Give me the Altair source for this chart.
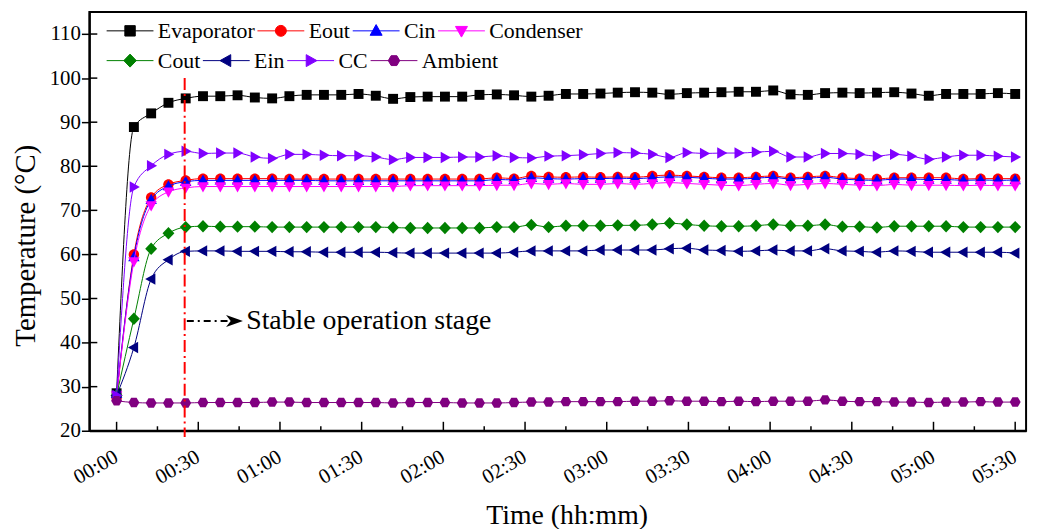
import altair as alt
import pandas as pd

# ---------------- data ----------------
SERIES = ["Evaporator", "Eout", "Cin", "Condenser", "Cout", "Ein", "CC", "Ambient"]
COLORS = ["#000000", "#FF0000", "#0000FF", "#FF00FF", "#008000", "#000080", "#8000FF", "#800080"]

SAMPLE_STEP_MIN = 330 / 52
TIME_MIN = [round(i * SAMPLE_STEP_MIN, 2) for i in range(53)]

EVAPORATOR = [28.5, 88.9, 92.0, 94.4, 95.4, 95.9, 95.9, 96.1, 95.6, 95.4, 95.9, 96.2, 96.2, 96.2,
              96.4, 96.0, 95.3, 95.7, 95.8, 95.8, 95.8, 96.2, 96.3, 96.1, 95.8, 96.0, 96.4, 96.4,
              96.5, 96.7, 96.8, 96.7, 96.3, 96.6, 96.7, 96.8, 96.9, 96.9, 97.2, 96.3, 96.2, 96.6,
              96.7, 96.6, 96.7, 96.8, 96.5, 96.0, 96.4, 96.4, 96.4, 96.6, 96.4]
EOUT = [27.5, 60.0, 72.9, 75.9, 76.8, 77.2, 77.2, 77.2, 77.2, 77.2, 77.1, 77.1, 77.1, 77.1,
        77.1, 77.1, 77.1, 77.1, 77.1, 77.1, 77.1, 77.1, 77.4, 77.2, 77.8, 77.6, 77.5, 77.6,
        77.5, 77.6, 77.5, 77.8, 78.0, 77.8, 77.6, 77.4, 77.4, 77.6, 77.8, 77.4, 77.6, 77.8,
        77.4, 77.2, 77.1, 77.4, 77.4, 77.4, 77.4, 77.1, 77.2, 77.2, 77.2]
CIN = [28.4, 59.4, 72.4, 75.5, 76.5, 76.8, 76.8, 76.8, 76.8, 76.8, 76.8, 76.8, 76.7, 76.7,
       76.7, 76.7, 76.7, 76.7, 76.7, 76.7, 76.7, 76.7, 77.0, 76.9, 77.4, 77.2, 77.1, 77.2,
       77.2, 77.3, 77.2, 77.4, 77.6, 77.5, 77.3, 77.1, 77.1, 77.3, 77.5, 77.1, 77.3, 77.5,
       77.1, 76.9, 76.8, 77.1, 77.1, 77.0, 77.0, 76.8, 76.9, 76.8, 76.9]
CONDENSER = [28.0, 58.4, 71.1, 74.2, 75.1, 75.4, 75.4, 75.4, 75.4, 75.4, 75.4, 75.4, 75.4, 75.4,
             75.4, 75.4, 75.4, 75.6, 75.6, 75.6, 75.6, 75.6, 75.7, 75.7, 76.1, 75.9, 76.1, 75.9,
             75.9, 76.1, 75.9, 76.1, 76.3, 76.1, 75.9, 75.7, 75.6, 75.9, 76.1, 75.7, 75.9, 76.1,
             75.9, 75.7, 75.6, 75.9, 75.7, 75.7, 75.7, 75.6, 75.7, 75.6, 75.6]
COUT = [28.0, 45.4, 61.3, 64.8, 66.2, 66.4, 66.3, 66.3, 66.3, 66.2, 66.2, 66.2, 66.2, 66.2,
        66.2, 66.2, 66.1, 66.0, 66.0, 66.0, 66.0, 66.0, 66.2, 66.2, 66.7, 66.2, 66.5, 66.5,
        66.5, 66.6, 66.6, 66.8, 67.1, 66.8, 66.5, 66.4, 66.4, 66.5, 66.8, 66.5, 66.5, 66.8,
        66.3, 66.3, 66.1, 66.4, 66.4, 66.4, 66.4, 66.2, 66.2, 66.2, 66.2]
EIN = [28.0, 38.9, 54.4, 58.8, 60.7, 60.8, 60.8, 60.7, 60.7, 60.7, 60.6, 60.6, 60.5, 60.5,
       60.5, 60.5, 60.4, 60.3, 60.3, 60.3, 60.3, 60.3, 60.3, 60.5, 60.8, 60.8, 60.8, 60.8,
       61.0, 61.0, 61.0, 61.0, 61.3, 61.4, 61.0, 60.9, 60.7, 60.8, 61.0, 60.8, 60.8, 61.3,
       60.8, 60.7, 60.5, 60.8, 60.7, 60.5, 60.5, 60.5, 60.5, 60.5, 60.3]
CC = [28.0, 75.3, 80.1, 82.7, 83.4, 82.9, 83.0, 83.0, 82.1, 81.8, 82.7, 82.7, 82.5, 82.4,
      82.4, 82.1, 81.5, 82.0, 82.0, 82.0, 82.1, 82.1, 82.4, 82.0, 81.9, 82.3, 82.4, 82.6,
      82.9, 83.1, 83.0, 82.7, 82.0, 83.1, 82.9, 83.0, 83.0, 83.2, 83.4, 82.1, 82.1, 82.9,
      82.9, 82.7, 82.3, 82.7, 82.3, 81.6, 82.1, 82.5, 82.5, 82.3, 82.1]
AMBIENT = [26.8, 26.4, 26.3, 26.3, 26.3, 26.4, 26.4, 26.4, 26.4, 26.5, 26.5, 26.4, 26.4, 26.4,
           26.4, 26.4, 26.3, 26.4, 26.4, 26.4, 26.3, 26.3, 26.3, 26.4, 26.5, 26.5, 26.6, 26.6,
           26.6, 26.6, 26.7, 26.7, 26.8, 26.7, 26.7, 26.6, 26.7, 26.6, 26.7, 26.7, 26.7, 27.0,
           26.7, 26.6, 26.6, 26.5, 26.5, 26.4, 26.5, 26.5, 26.6, 26.5, 26.5]

SERIES_VALUES = [EVAPORATOR, EOUT, CIN, CONDENSER, COUT, EIN, CC, AMBIENT]

X_MAJOR = list(range(0, 331, 30))
X_MINOR = list(range(15, 331, 30))
Y_TICKS = list(range(20, 111, 10))

STABLE_START_MIN = 25
ANNOT_Y = 44.9
ANNOT_TEXT = "Stable operation stage"

# ---------------- styling ----------------
FONT = "Liberation Serif"
X_DOMAIN = [-10, 334]
Y_DOMAIN = [20, 115]
W, H = 944, 422
PX_PER_MIN = W / (X_DOMAIN[1] - X_DOMAIN[0])
PX_PER_DEG = H / (Y_DOMAIN[1] - Y_DOMAIN[0])

SQUARE = "M-1,-1H1V1H-1Z"
CIRCLE = "M-1.05,0A1.05,1.05,0,1,0,1.05,0A1.05,1.05,0,1,0,-1.05,0Z"
TRI_UP = "M0,-1.2L1.15,0.85H-1.15Z"
TRI_DOWN = "M0,1.2L1.15,-0.85H-1.15Z"
DIAMOND = "M0,-1.25L1.2,0L0,1.25L-1.2,0Z"
TRI_LEFT = "M-1.2,0L0.85,-1.15V1.15Z"
TRI_RIGHT = "M1.2,0L-0.85,-1.15V1.15Z"
HEXAGON = "M-1.1,0L-0.55,-0.95H0.55L1.1,0L0.55,0.95H-0.55Z"
MARKERS = [SQUARE, CIRCLE, TRI_UP, TRI_DOWN, DIAMOND, TRI_LEFT, TRI_RIGHT, HEXAGON]
LEGEND_LINE = "M-4.5,0H4.5"
LEGEND_SHAPES = [LEGEND_LINE + m for m in MARKERS]
ARROW = "M1,0L-1,-0.7L-0.45,0L-1,0.7Z"

rows = []
for name, vals in zip(SERIES, SERIES_VALUES):
    for t, v in zip(TIME_MIN, vals):
        rows.append({"t": t, "value": v, "series": name})
df = pd.DataFrame(rows)

label_expr = ("(floor(datum.value / 60) < 10 ? '0' : '') + floor(datum.value / 60)"
              " + ':' + (datum.value % 60 == 0 ? '00' : '30')")

x_enc = alt.X(
    "t:Q",
    scale=alt.Scale(domain=X_DOMAIN, nice=False, zero=False),
    axis=alt.Axis(
        values=X_MAJOR, labelExpr=label_expr, labelAngle=330, labelAlign="right", labelBaseline="top",
        labelFont=FONT, labelFontSize=21, labelColor="black", labelPadding=15, labelOffset=-6,
        labelOverlap=False, labelFlush=False, ticks=False, domainColor="black", domainWidth=2,
        grid=False, title="Time (hh:mm)", titleFont=FONT, titleFontSize=28, titleFontWeight="normal",
        titleColor="black", titlePadding=14, titleX=481,
    ),
)
y_enc = alt.Y(
    "value:Q",
    scale=alt.Scale(domain=Y_DOMAIN, nice=False, zero=False),
    axis=alt.Axis(
        values=Y_TICKS, labelFont=FONT, labelFontSize=21, labelColor="black", labelPadding=1,
        labelFlush=False, tickSize=8, tickColor="black", tickWidth=1.5, domainColor="black",
        domainWidth=2, grid=False, title="Temperature (°C)", titleFont=FONT, titleFontSize=29,
        titleFontWeight="normal", titleColor="black", titlePadding=9, titleY=235,
    ),
)

layers = []
for i, (name, marker, col) in enumerate(zip(SERIES, MARKERS, COLORS)):
    sub = alt.Chart(df).transform_filter(alt.datum.series == name)
    line = sub.mark_line(strokeWidth=1, interpolate="monotone", color=col)
    if i == 0:
        line = line.encode(x=x_enc, y=y_enc)
    else:
        line = line.encode(x="t:Q", y="value:Q")
    pts = sub.mark_point(shape=marker, filled=True, size=100, opacity=1, color=col).encode(
        x="t:Q", y="value:Q"
    )
    layers += [line, pts]


def legend_row(names, y_px):
    cols = [COLORS[SERIES.index(n)] for n in names]
    shapes = [LEGEND_SHAPES[SERIES.index(n)] for n in names]
    leg = alt.Legend(
        orient="none", legendX=30, legendY=y_px, columns=len(names), direction="horizontal",
        title=None, labelFont=FONT, labelFontSize=22, labelColor="black", labelOffset=17,
        symbolSize=110, symbolStrokeWidth=1, columnPadding=0, padding=0,
        labelLimit=0, symbolOpacity=1,
    )
    return alt.Chart(df).transform_filter("datum.t < -100").mark_point(
        size=110, opacity=1, strokeWidth=1, filled=True
    ).encode(
        x="t:Q", y="value:Q",
        fill=alt.Fill("series:N", scale=alt.Scale(domain=names, range=cols), legend=leg),
        stroke=alt.Stroke("series:N", scale=alt.Scale(domain=names, range=cols), legend=leg),
        shape=alt.Shape("series:N", scale=alt.Scale(domain=names, range=shapes), legend=leg),
    )


legend_top = legend_row(SERIES[:4], 8)
legend_bottom = legend_row(SERIES[4:], 38)

# axis tick marks drawn through the scales
major_ticks = alt.Chart(pd.DataFrame({"t": X_MAJOR})).mark_rule(color="black", strokeWidth=1.5).encode(
    x="t:Q", y=alt.datum(Y_DOMAIN[0]), y2=alt.datum(Y_DOMAIN[0] + 9 / PX_PER_DEG)
)
minor_ticks = alt.Chart(pd.DataFrame({"t": X_MINOR})).mark_rule(color="black", strokeWidth=1.5).encode(
    x="t:Q", y=alt.datum(Y_DOMAIN[0]), y2=alt.datum(Y_DOMAIN[0] + 4.5 / PX_PER_DEG)
)
y_inner_ticks = alt.Chart(pd.DataFrame({"value": Y_TICKS})).mark_rule(color="black", strokeWidth=1.5).encode(
    y="value:Q", x=alt.datum(X_DOMAIN[0]), x2=alt.datum(X_DOMAIN[0] + 8 / PX_PER_MIN)
)

one = pd.DataFrame({"k": [0]})
stable_line = alt.Chart(one).mark_rule(color="red", strokeWidth=2, strokeDash=[12, 4, 2, 4]).encode(
    x=alt.datum(STABLE_START_MIN), y=alt.datum(100), y2=alt.datum(18.6)
)
arrow_shaft = alt.Chart(one).mark_rule(color="black", strokeWidth=2, strokeDash=[7, 4, 2, 4]).encode(
    x=alt.datum(25.8), x2=alt.datum(41.0), y=alt.datum(ANNOT_Y)
)
arrow_head = alt.Chart(one).mark_point(shape=ARROW, filled=True, size=289, color="black", opacity=1).encode(
    x=alt.datum(43.3), y=alt.datum(ANNOT_Y)
)
annot = alt.Chart(one).mark_text(align="left", baseline="middle", font=FONT, fontSize=28, color="black").encode(
    x=alt.datum(47.6), y=alt.datum(ANNOT_Y), text=alt.value(ANNOT_TEXT)
)

chart = alt.layer(
    *layers, legend_top, legend_bottom, major_ticks, minor_ticks, y_inner_ticks,
    stable_line, arrow_shaft, arrow_head, annot
).resolve_scale(
    fill="independent", stroke="independent", shape="independent"
).properties(
    width=W, height=H,
    autosize=alt.AutoSizeParams(type="none"),
    padding={"left": 82, "top": 2, "right": 10, "bottom": 97},
).configure(font=FONT).configure_view(stroke="black", strokeWidth=2)

chart.save("out.html", embed_options={"renderer": "svg", "actions": False})
